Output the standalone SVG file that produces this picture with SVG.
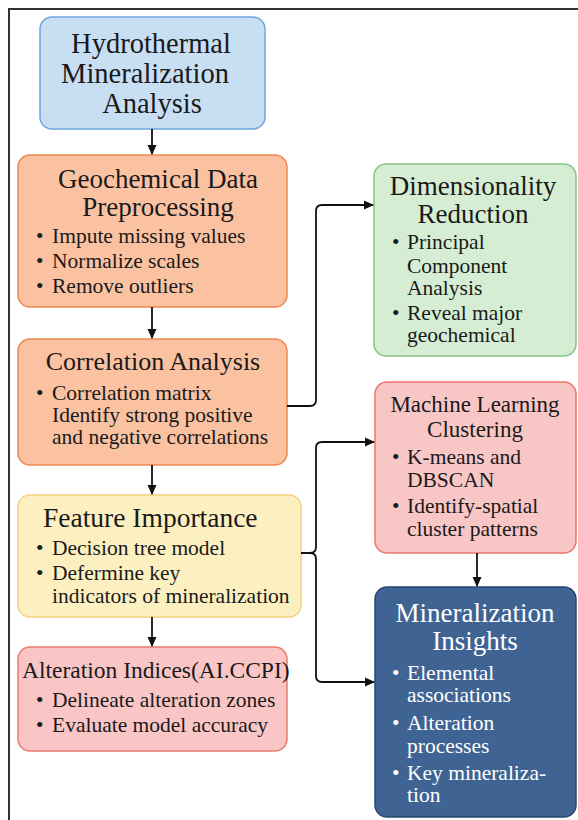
<svg xmlns="http://www.w3.org/2000/svg" width="578" height="820" viewBox="0 0 578 820" font-family="'Liberation Serif', 'DejaVu Serif', serif">
<defs>
<marker id="ah" markerWidth="10" markerHeight="10" refX="9" refY="5" orient="auto" markerUnits="userSpaceOnUse">
<path d="M0,0.5 L10,5 L0,9.5 Z" fill="#111"/>
</marker>
</defs>
<style>
text{font-family:'Liberation Serif','DejaVu Serif',serif;fill:#1a1a1a}
.b{font-size:21.5px}
.w{fill:#ffffff}
.c{stroke:#111;stroke-width:1.8;fill:none}
</style>
<rect width="578" height="820" fill="#ffffff"/>
<path d="M9,820 L9,9 L578,9" fill="none" stroke="#333" stroke-width="2"/>

<g id="title">
<rect x="40" y="17" width="225" height="112" rx="12" fill="#c8def2" stroke="#6ea6dc" stroke-width="1.5"/>
<text x="151" y="53" font-size="28.5" text-anchor="middle">Hydrothermal</text>
<text x="145" y="83" font-size="28.5" text-anchor="middle">Mineralization</text>
<text x="152" y="113" font-size="28.5" text-anchor="middle">Analysis</text>
</g>

<g id="preprocessing">
<rect x="18" y="155" width="269" height="152" rx="12" fill="#fbc2a2" stroke="#f0874f" stroke-width="1.5"/>
<text x="158" y="188" font-size="27" text-anchor="middle">Geochemical Data</text>
<text x="158" y="216" font-size="27" text-anchor="middle">Preprocessing</text>
<text class="b" x="36" y="243">•</text><text class="b" x="52" y="243">Impute missing values</text>
<text class="b" x="36" y="268">•</text><text class="b" x="52" y="268">Normalize scales</text>
<text class="b" x="36" y="293">•</text><text class="b" x="52" y="293">Remove outliers</text>
</g>

<g id="correlation">
<rect x="18" y="339" width="269" height="126" rx="12" fill="#fbc2a2" stroke="#f0874f" stroke-width="1.5"/>
<text x="153" y="370" font-size="26" text-anchor="middle">Correlation Analysis</text>
<text class="b" x="36" y="400">•</text><text class="b" x="52" y="400">Correlation matrix</text>
<text class="b" x="52" y="422">Identify strong positive</text>
<text class="b" x="52" y="444">and negative correlations</text>
</g>

<g id="feature">
<rect x="18" y="495" width="283" height="122" rx="12" fill="#fdf0c0" stroke="#f3d27e" stroke-width="1.5"/>
<text x="43" y="527" font-size="27.5">Feature Importance</text>
<text class="b" x="36" y="555">•</text><text class="b" x="52" y="555">Decision tree model</text>
<text class="b" x="36" y="580">•</text><text class="b" x="52" y="580">Defermine key</text>
<text class="b" x="52" y="603">indicators of mineralization</text>
</g>

<g id="alteration">
<rect x="18" y="647" width="269" height="104" rx="12" fill="#f9c5c5" stroke="#ea7b6e" stroke-width="1.5"/>
<text x="22" y="678" font-size="23.5">Alteration Indices(AI.CCPI)</text>
<text class="b" x="36" y="707">•</text><text class="b" x="52" y="707">Delineate alteration zones</text>
<text class="b" x="36" y="732">•</text><text class="b" x="52" y="732">Evaluate model accuracy</text>
</g>

<g id="dimensionality">
<rect x="374" y="164" width="202" height="192" rx="12" fill="#d5eed3" stroke="#86c485" stroke-width="1.5"/>
<text x="473" y="195" font-size="27" text-anchor="middle">Dimensionality</text>
<text x="473" y="223" font-size="27" text-anchor="middle">Reduction</text>
<text class="b" x="392" y="249">•</text><text class="b" x="407" y="249">Principal</text>
<text class="b" x="407" y="273">Component</text>
<text class="b" x="407" y="295">Analysis</text>
<text class="b" x="392" y="320">•</text><text class="b" x="407" y="320">Reveal major</text>
<text class="b" x="407" y="342">geochemical</text>
</g>

<g id="clustering">
<rect x="375" y="382" width="201" height="171" rx="12" fill="#f9c6c6" stroke="#e77569" stroke-width="1.5"/>
<text x="475" y="412" font-size="23" text-anchor="middle">Machine Learning</text>
<text x="475" y="437" font-size="23" text-anchor="middle">Clustering</text>
<text class="b" x="392" y="464">•</text><text class="b" x="407" y="464">K-means and</text>
<text class="b" x="407" y="487">DBSCAN</text>
<text class="b" x="392" y="513">•</text><text class="b" x="407" y="513">Identify-spatial</text>
<text class="b" x="407" y="536">cluster patterns</text>
</g>

<g id="insights">
<rect x="375" y="587" width="201" height="230" rx="12" fill="#3f6494" stroke="#2b4670" stroke-width="1.5"/>
<text class="w" x="475" y="622" font-size="27" text-anchor="middle">Mineralization</text>
<text class="w" x="475" y="650" font-size="27" text-anchor="middle">Insights</text>
<text class="b w" x="392" y="680">•</text><text class="b w" x="407" y="680">Elemental</text>
<text class="b w" x="407" y="702">associations</text>
<text class="b w" x="392" y="730">•</text><text class="b w" x="407" y="730">Alteration</text>
<text class="b w" x="407" y="753">processes</text>
<text class="b w" x="392" y="780">•</text><text class="b w" x="407" y="780">Key mineraliza-</text>
<text class="b w" x="407" y="802">tion</text>
</g>

<g id="connectors">
<path class="c" d="M152,129 L152,154" marker-end="url(#ah)"/>
<path class="c" d="M152,307 L152,338" marker-end="url(#ah)"/>
<path class="c" d="M152,465 L152,494" marker-end="url(#ah)"/>
<path class="c" d="M152,617 L152,646" marker-end="url(#ah)"/>
<path class="c" d="M287,406 L310,406 Q316,406 316,400 L316,211 Q316,205 322,205 L373,205" marker-end="url(#ah)"/>
<path class="c" d="M301,553 L310,553 Q316,553 316,547 L316,448 Q316,442 322,442 L374,442" marker-end="url(#ah)"/>
<path class="c" d="M310,553 Q316,553 316,559 L316,676 Q316,682 322,682 L374,682" marker-end="url(#ah)"/>
<path class="c" d="M477,553 L477,586" marker-end="url(#ah)"/>
</g>
</svg>
